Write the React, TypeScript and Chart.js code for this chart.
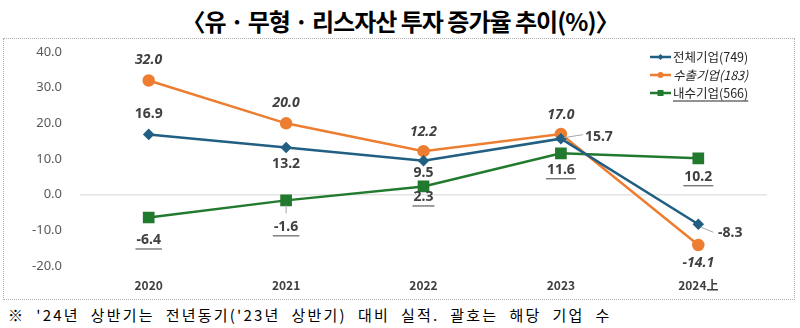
import React, { useEffect, useRef } from "react";
import { Chart, registerables } from "chart.js";

Chart.register(...registerables);

const categories = ["2020", "2021", "2022", "2023", "2024上"];
const totalValues = [16.9, 13.2, 9.5, 15.7, -8.3];
const exportValues = [32.0, 20.0, 12.2, 17.0, -14.1];
const domesticValues = [-6.4, -1.6, 2.3, 11.6, 10.2];
const seriesNames = ["전체기업(749)", "수출기업(183)", "내수기업(566)"];
const yTicks = [-20, -10, 0, 10, 20, 30, 40];

const titleText = "〈유 · 무형 · 리스자산 투자 증가율 추이(%)〉";
const footnoteText = "※ '24년 상반기는 전년동기('23년 상반기) 대비 실적. 괄호는 해당 기업 수";

const BLUE = "#215f83";
const ORANGE = "#ed7d31";
const GREEN = "#217a2e";
const LABEL = "#404040";

// label placement per series (relative offsets from the point)
const labelStyle = [
  { italic: false, underline: false, offsets: [[0, -20], [0, 16], [0, 12], [38, -2], [32, 9]], leaders: [null, null, null, [[3, -1], [22, -4]], [[3, 3], [15, 8]]] },
  { italic: true, underline: false, offsets: [[0, -21], [0, -20], [0, -19], [0, -19], [0, 18]], leaders: [null, null, null, null, null] },
  { italic: false, underline: true, offsets: [[0, 23], [0, 27], [0, 11], [0, 17], [0, 19]], leaders: [null, [[0, 5], [0, 13]], null, null, null] },
];

const labelPlugin = {
  id: "valueLabels",
  afterDatasetsDraw(chart: any) {
    const ctx = chart.ctx;
    chart.data.datasets.forEach((ds: any, di: number) => {
      const meta = chart.getDatasetMeta(di);
      const st = labelStyle[di];
      meta.data.forEach((pt: any, i: number) => {
        const v = ds.data[i] as number;
        const [dx, dy] = st.offsets[i];
        const lead = st.leaders[i];
        ctx.save();
        if (lead) {
          ctx.strokeStyle = "#a6a6a6";
          ctx.lineWidth = 1;
          ctx.beginPath();
          ctx.moveTo(pt.x + lead[0][0], pt.y + lead[0][1]);
          ctx.lineTo(pt.x + lead[1][0], pt.y + lead[1][1]);
          ctx.stroke();
        }
        const txt = v.toFixed(1);
        ctx.font = `${st.italic ? "italic " : ""}bold 14px "Noto Sans", sans-serif`;
        ctx.fillStyle = LABEL;
        ctx.textAlign = "center";
        ctx.textBaseline = "middle";
        const x = pt.x + dx;
        const y = pt.y + dy;
        ctx.fillText(txt, x, y);
        if (st.underline) {
          const w = ctx.measureText(txt).width;
          ctx.strokeStyle = LABEL;
          ctx.lineWidth = 1;
          ctx.beginPath();
          ctx.moveTo(x - w / 2 - 1, y + 8.5);
          ctx.lineTo(x + w / 2 + 1, y + 8.5);
          ctx.stroke();
        }
        ctx.restore();
      });
    });
  },
};

const legendPlugin = {
  id: "customLegend",
  afterDraw(chart: any) {
    const ctx = chart.ctx;
    const colors = [BLUE, ORANGE, GREEN];
    const shapes = ["diamond", "circle", "square"];
    const x0 = 650;
    const ys = [57, 75, 93];
    seriesNames.forEach((name, i) => {
      const y = ys[i];
      ctx.save();
      ctx.strokeStyle = colors[i];
      ctx.fillStyle = colors[i];
      ctx.lineWidth = 2.5;
      ctx.beginPath();
      ctx.moveTo(x0, y);
      ctx.lineTo(x0 + 21, y);
      ctx.stroke();
      const cx = x0 + 10.5;
      ctx.beginPath();
      if (shapes[i] === "diamond") {
        ctx.moveTo(cx, y - 3);
        ctx.lineTo(cx + 3, y);
        ctx.lineTo(cx, y + 3);
        ctx.lineTo(cx - 3, y);
        ctx.closePath();
      } else if (shapes[i] === "circle") {
        ctx.arc(cx, y, 3, 0, Math.PI * 2);
      } else {
        ctx.rect(cx - 3, y - 3, 6, 6);
      }
      ctx.fill();
      ctx.font = `${i === 1 ? "italic " : ""}12.5px "Noto Sans CJK KR", sans-serif`;
      ctx.fillStyle = "#262626";
      ctx.textAlign = "left";
      ctx.textBaseline = "middle";
      ctx.fillText(name, x0 + 23, y);
      if (i === 2) {
        const w = ctx.measureText(name).width;
        ctx.strokeStyle = "#262626";
        ctx.lineWidth = 1;
        ctx.beginPath();
        ctx.moveTo(x0 + 23, y + 8);
        ctx.lineTo(x0 + 23 + w, y + 8);
        ctx.stroke();
      }
      ctx.restore();
    });
  },
};

export default function App() {
  const ref = useRef<HTMLCanvasElement | null>(null);
  useEffect(() => {
    if (!ref.current) return;
    const chart = new Chart(ref.current, {
      type: "line",
      data: {
        labels: categories,
        datasets: [
          {
            label: seriesNames[0],
            data: totalValues,
            borderColor: BLUE,
            backgroundColor: BLUE,
            borderWidth: 2.5,
            pointStyle: "rectRot",
            pointRadius: 4,
            tension: 0,
          },
          {
            label: seriesNames[1],
            data: exportValues,
            borderColor: ORANGE,
            backgroundColor: ORANGE,
            borderWidth: 2.5,
            pointStyle: "circle",
            pointRadius: 5,
            tension: 0,
          },
          {
            label: seriesNames[2],
            data: domesticValues,
            borderColor: GREEN,
            backgroundColor: GREEN,
            borderWidth: 2.5,
            pointStyle: "rect",
            pointRadius: 6.5,
            tension: 0,
          },
        ],
      },
      options: {
        responsive: false,
        animation: false,
        layout: { padding: { top: 52, right: 33, left: 0, bottom: 0 } },
        plugins: { legend: { display: false }, tooltip: { enabled: false } },
        scales: {
          x: {
            offset: true,
            grid: { display: false, drawTicks: false },
            border: { display: false },
            ticks: {
              padding: 12,
              color: "#404040",
              font: { family: "Noto Sans CJK KR", size: 12, weight: "bold" },
            },
            afterFit: (s: any) => {
              s.height = 62;
            },
          },
          y: {
            min: yTicks[0],
            max: yTicks[yTicks.length - 1],
            afterBuildTicks: (s: any) => {
              s.ticks = yTicks.map((v) => ({ value: v }));
            },
            grid: {
              drawTicks: false,
              lineWidth: 1.5,
              color: (c: any) => (c.tick && c.tick.value === 0 ? "#e3e3e3" : "rgba(0,0,0,0)"),
            },
            border: { display: false },
            ticks: {
              padding: 18,
              color: "#595959",
              font: { family: "Noto Sans", size: 13 },
              callback: (v: any) => Number(v).toFixed(1),
            },
            afterFit: (s: any) => {
              s.width = 80;
            },
          },
        },
      },
      plugins: [labelPlugin, legendPlugin],
    } as any);
    return () => chart.destroy();
  }, []);

  return (
    <div style={{ position: "absolute", left: 0, top: 0, width: 800, height: 328, background: "#fff", overflow: "hidden" }}>
      <div
        style={{
          position: "absolute",
          left: 0,
          top: 5,
          width: 800,
          textAlign: "center",
          fontFamily: '"Noto Sans CJK KR", sans-serif',
          fontWeight: "bold",
          fontSize: 24,
          letterSpacing: "-1px",
          lineHeight: "32px",
          color: "#000",
        }}
      >
        {titleText}
      </div>
      <div
        style={{
          position: "absolute",
          left: 3,
          top: 38,
          width: 790,
          height: 260,
          border: "1px dotted #b0b0b0",
        }}
      />
      <div
        style={{
          position: "absolute",
          left: 8,
          top: 305,
          fontFamily: '"Noto Sans CJK KR", serif',
          fontSize: 15,
          letterSpacing: "2.2px",
          wordSpacing: "5.5px",
          lineHeight: "20px",
          color: "#000",
          whiteSpace: "nowrap",
        }}
      >
        {footnoteText}
      </div>
      <canvas ref={ref} width={800} height={328} style={{ position: "absolute", left: 0, top: 0 }} />
    </div>
  );
}
